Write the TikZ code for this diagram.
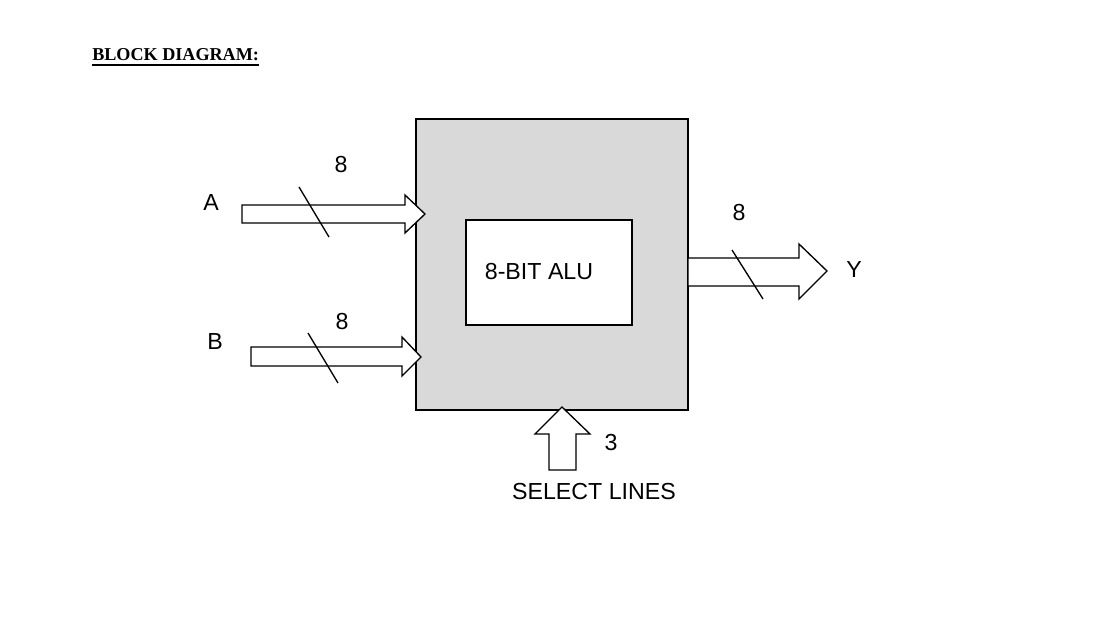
\documentclass[tikz,border=0pt]{standalone}
\usepackage{fontspec}
\setmainfont{Liberation Sans}
\newfontfamily\headfont{Liberation Serif}
\usepackage{tikz}
\usetikzlibrary{calc,positioning}

\begin{document}
\begin{tikzpicture}[x=0.75pt,y=0.75pt,yscale=-1,xscale=1]
\useasboundingbox (0,0) rectangle (1105,639);
\tikzset{txt/.style={inner sep=0pt,font=\fontsize{17.4}{20}\selectfont}}

%Shape: Rectangle [id:outerbox]
\draw [color={rgb, 255:red, 0; green, 0; blue, 0 } ,draw opacity=1 ][fill={rgb, 255:red, 217; green, 217; blue, 217 } ,fill opacity=1 ][line width=1] (416,119) -- (688,119) -- (688,410) -- (416,410) -- cycle ;
%Shape: Rectangle [id:innerbox]
\draw [color={rgb, 255:red, 0; green, 0; blue, 0 } ,draw opacity=1 ][fill={rgb, 255:red, 255; green, 255; blue, 255 } ,fill opacity=1 ][line width=1] (466,220) -- (632,220) -- (632,325) -- (466,325) -- cycle ;

%Shape: Right Arrow [id:arrowA]
\draw [fill={rgb, 255:red, 255; green, 255; blue, 255 } ,fill opacity=1 ][line width=1] (242,205) -- (405,205) -- (405,195) -- (425,214) -- (405,233) -- (405,223) -- (242,223) -- cycle ;
%Straight Lines [id:slashA]
\draw [line width=1] (299,187) -- (329,237) ;

%Shape: Right Arrow [id:arrowB]
\draw [fill={rgb, 255:red, 255; green, 255; blue, 255 } ,fill opacity=1 ][line width=1] (251,347) -- (402,347) -- (402,337) -- (421,357) -- (402,376) -- (402,366) -- (251,366) -- cycle ;
%Straight Lines [id:slashB]
\draw [line width=1] (308,333) -- (338,383) ;

%Shape: Right Arrow [id:arrowY]
\draw [fill={rgb, 255:red, 255; green, 255; blue, 255 } ,fill opacity=1 ][line width=1] (688,258) -- (799,258) -- (799,244) -- (827,271) -- (799,299) -- (799,286) -- (688,286) -- cycle ;
%Straight Lines [id:slashY]
\draw [line width=1] (732,250) -- (763,299) ;

%Shape: Up Arrow [id:arrowSel]
\draw [fill={rgb, 255:red, 255; green, 255; blue, 255 } ,fill opacity=1 ][line width=1] (549,470) -- (549,434) -- (535,434) -- (562,407) -- (590,434) -- (576,434) -- (576,470) -- cycle ;

% Text Node
\draw (92,55) node [anchor=west,inner sep=0pt,font=\headfont\bfseries\fontsize{13.6}{16}\selectfont] (title) {BLOCK DIAGRAM:};
\draw [line width=1.4] ($(title.south west)+(0,3.5)$) -- ($(title.south east)+(0,3.5)$) ;
% Text Node
\draw (539,272) node [txt] (alu) {8-BIT ALU};
% Text Node
\draw (211,203) node [txt] (lblA) {A};
% Text Node
\draw (341,165) node [txt] (widthA) {8};
% Text Node
\draw (215,342) node [txt] (lblB) {B};
% Text Node
\draw (342,322) node [txt] (widthB) {8};
% Text Node
\draw (739,213) node [txt] (widthY) {8};
% Text Node
\draw (854,270) node [txt] (lblY) {Y};
% Text Node
\draw (611,443) node [txt] (widthSel) {3};
% Text Node
\draw (594,492) node [txt] (lblSel) {SELECT LINES};

\end{tikzpicture}
\end{document}
